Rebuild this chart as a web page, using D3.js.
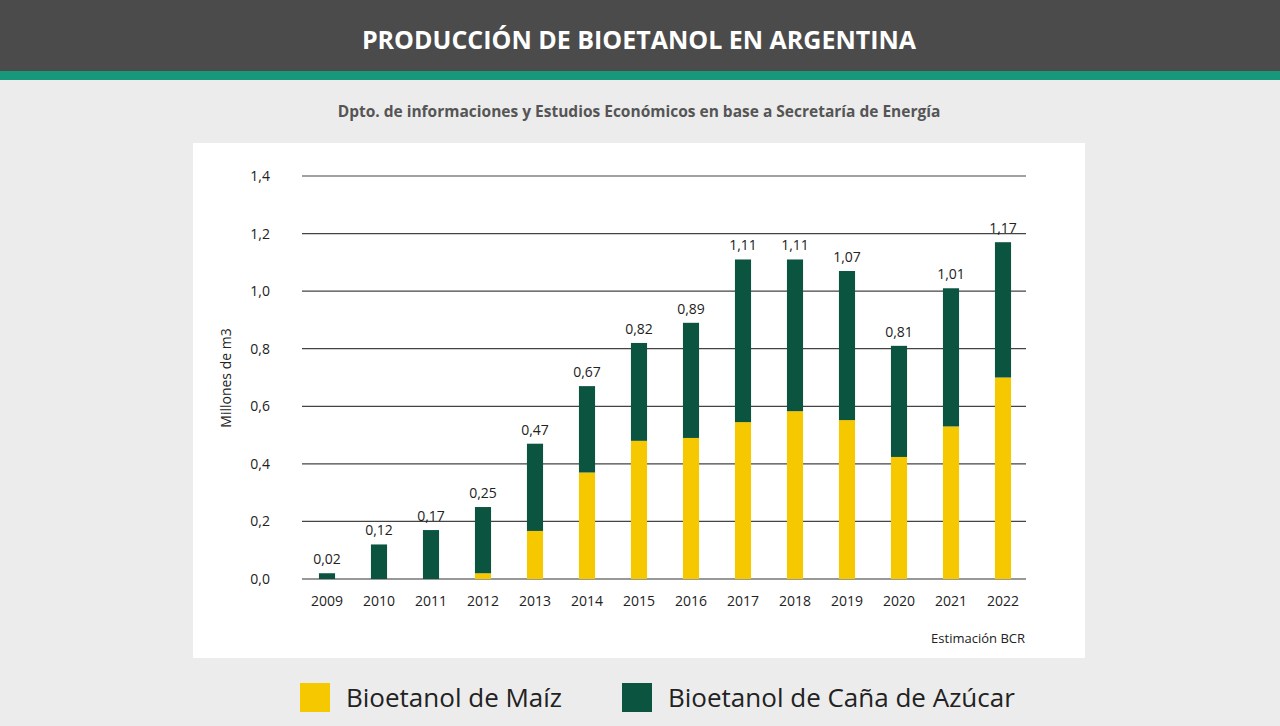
<!DOCTYPE html>
<html><head><meta charset="utf-8">
<script src="https://cdn.jsdelivr.net/npm/d3@7"></script>
<style>body{margin:0;background:#ececec;font-family:"Open Sans",sans-serif}</style>
</head><body><svg id="c" width="1280" height="726"></svg>
<script>
const years=["2009","2010","2011","2012","2013","2014","2015","2016","2017","2018","2019","2020","2021","2022"];
const totals=[0.02,0.12,0.17,0.25,0.47,0.67,0.82,0.89,1.11,1.11,1.07,0.81,1.01,1.17];
const maiz=[0,0,0,0.02,0.167,0.37,0.48,0.49,0.545,0.583,0.552,0.424,0.53,0.70];
const cana=totals.map((t,i)=>+(t-maiz[i]).toFixed(3));
const yTicks=[0,0.2,0.4,0.6,0.8,1.0,1.2,1.4];
const svg=d3.select("#c");
svg.append("rect").attr("width",1280).attr("height",726).attr("fill","#ececec");
svg.append("rect").attr("width",1280).attr("height",71).attr("fill","#4b4b4b");
svg.append("rect").attr("y",71).attr("width",1280).attr("height",9).attr("fill","#18987a");
svg.append("text").attr("x",639).attr("y",49).attr("text-anchor","middle").attr("fill","#fff").attr("font-size",25).attr("font-weight",700).text("PRODUCCIÓN DE BIOETANOL EN ARGENTINA");
svg.append("text").attr("x",639).attr("y",117).attr("text-anchor","middle").attr("fill","#555").attr("font-size",15.5).attr("font-weight",700).text("Dpto. de informaciones y Estudios Económicos en base a Secretaría de Energía");
svg.append("rect").attr("x",193).attr("y",143).attr("width",892).attr("height",515).attr("fill","#fff");
const x=d3.scaleBand().domain(years).range([301,1029]).paddingInner(0.69).paddingOuter(0.345);
const y=d3.scaleLinear().domain([0,1.4]).range([579,176]);
const g=svg.append("g");
yTicks.forEach(t=>{
 g.append("line").attr("x1",302).attr("x2",1026).attr("y1",y(t)).attr("y2",y(t)).attr("stroke",t===0?"#333":"#444").attr("stroke-width",1.2);
 g.append("text").attr("x",270).attr("y",y(t)+5).attr("text-anchor","end").attr("font-size",14).attr("fill","#222").text(d3.format(".1f")(t).replace(".",","));
});
years.forEach((yr,i)=>{
 g.append("rect").attr("x",x(yr)).attr("width",x.bandwidth()).attr("y",y(maiz[i])).attr("height",y(0)-y(maiz[i])).attr("fill","#f5c800");
 g.append("rect").attr("x",x(yr)).attr("width",x.bandwidth()).attr("y",y(totals[i])).attr("height",y(maiz[i])-y(totals[i])).attr("fill","#0b5440");
 g.append("text").attr("x",x(yr)+x.bandwidth()/2).attr("y",y(totals[i])-9).attr("text-anchor","middle").attr("font-size",14).attr("fill","#222").text(totals[i].toFixed(2).replace(".",","));
 g.append("text").attr("x",x(yr)+x.bandwidth()/2).attr("y",606).attr("text-anchor","middle").attr("font-size",14).attr("fill","#222").text(yr);
});
svg.append("text").attr("transform","translate(231,378) rotate(-90)").attr("text-anchor","middle").attr("font-size",14).attr("fill","#222").text("Millones de m3");
svg.append("text").attr("x",1025).attr("y",643).attr("text-anchor","end").attr("font-size",13).attr("fill","#222").text("Estimación BCR");
const leg=[["Bioetanol de Maíz","#f5c800",300],["Bioetanol de Caña de Azúcar","#0b5440",622]];
leg.forEach(l=>{
 svg.append("rect").attr("x",l[2]).attr("y",683).attr("width",30).attr("height",29).attr("fill",l[1]);
 svg.append("text").attr("x",l[2]+46).attr("y",707).attr("font-size",26).attr("fill","#222").text(l[0]);
});
</script></body></html>
